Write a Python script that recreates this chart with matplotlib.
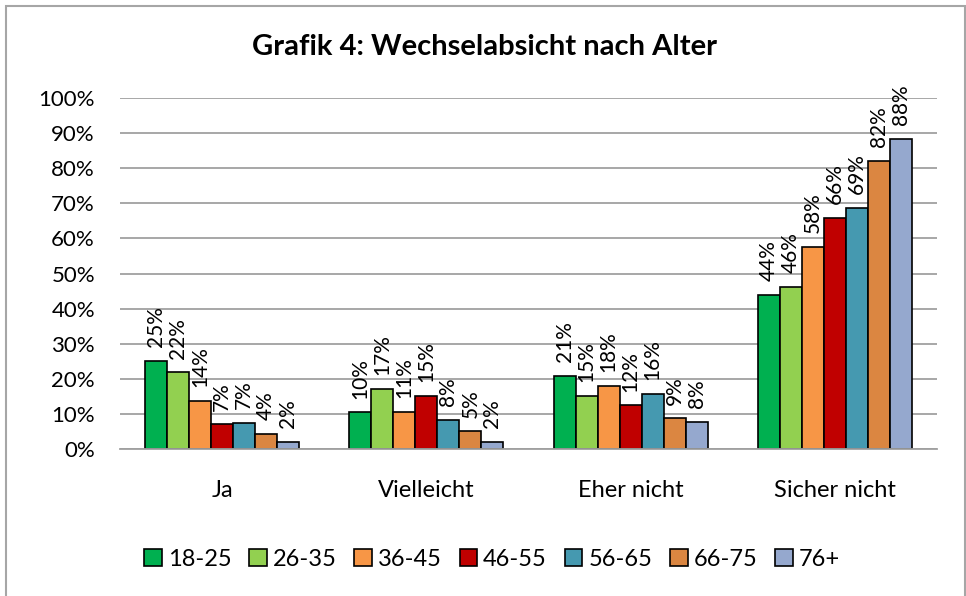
import numpy as np
import matplotlib
matplotlib.use("Agg")
import matplotlib.pyplot as plt
from matplotlib.patches import Rectangle

plt.rcParams['font.family'] = ['Lato', 'DejaVu Sans']

# data (percent)
categories = ['Ja', 'Vielleicht', 'Eher nicht', 'Sicher nicht']
age_groups = ['18-25', '26-35', '36-45', '46-55', '56-65', '66-75', '76+']
v_18_25 = [25.1, 10.4, 20.8, 43.8]
v_26_35 = [21.8, 17.0, 15.2, 46.2]
v_36_45 = [13.8, 10.6, 18.0, 57.6]
v_46_55 = [7.0, 15.0, 12.4, 65.8]
v_56_65 = [7.4, 8.3, 15.7, 68.7]
v_66_75 = [4.4, 5.0, 8.7, 82.1]
v_76 = [2.0, 1.9, 7.8, 88.3]
series = [v_18_25, v_26_35, v_36_45, v_46_55, v_56_65, v_66_75, v_76]

colors = ['#00B050', '#92D050', '#F79646', '#C00000', '#4599B0', '#DB8641', '#95A8CE']

fig = plt.figure(figsize=(9.66, 5.96), dpi=100)
ax = fig.add_axes([120/966, 1 - 449/596, 817/966, 351/596])

x = np.arange(len(categories))
w = 0.754 / len(series)

for j, vals in enumerate(series):
    pos = x + (j - 3) * w
    ax.bar(pos, vals, width=w, color=colors[j], edgecolor='black',
           linewidth=1.2, label=age_groups[j], zorder=3)
    for px, v in zip(pos, vals):
        ax.annotate(f"{v:.0f}%", xy=(px, v), xytext=(0, 10),
                    textcoords='offset points', rotation=90,
                    ha='center', va='bottom', fontsize=15, zorder=4)

ax.set_xlim(-0.5, 3.5)
ax.set_ylim(0, 100)
ax.set_yticks(np.arange(0, 101, 10))
ax.set_yticklabels([f"{t}%" for t in range(0, 101, 10)])
ax.set_xticks(x)
ax.set_xticklabels(categories)
ax.tick_params(axis='y', length=0, pad=18, labelsize=16)
ax.tick_params(axis='x', length=0, pad=22, labelsize=17)
ax.grid(axis='y', color='#A0A0A0', linewidth=1.3, zorder=0)
for s in ['top', 'right', 'left']:
    ax.spines[s].set_visible(False)
ax.spines['bottom'].set_color('#A0A0A0')
ax.spines['bottom'].set_linewidth(1.3)
ax.spines['bottom'].set_zorder(5)

fig.text(484/966, 1 - 47/596, 'Grafik 4: Wechselabsicht nach Alter',
         ha='center', va='center', fontsize=21, fontweight='bold')

leg = fig.legend(loc='center', bbox_to_anchor=(492/966, 1 - 559/596), ncol=7,
                 frameon=False, fontsize=17, handlelength=0.75, handleheight=0.75,
                 handletextpad=0.25, columnspacing=0.75)
for h in leg.legend_handles:
    h.set_linewidth(1.2)

# chart border
fig.add_artist(Rectangle((6/966, -0.05), 959/966, 1.05 - 6/596,
                         transform=fig.transFigure, fill=False,
                         edgecolor='#A6A6A6', linewidth=1.5))

fig.savefig('out.png', dpi=100)
